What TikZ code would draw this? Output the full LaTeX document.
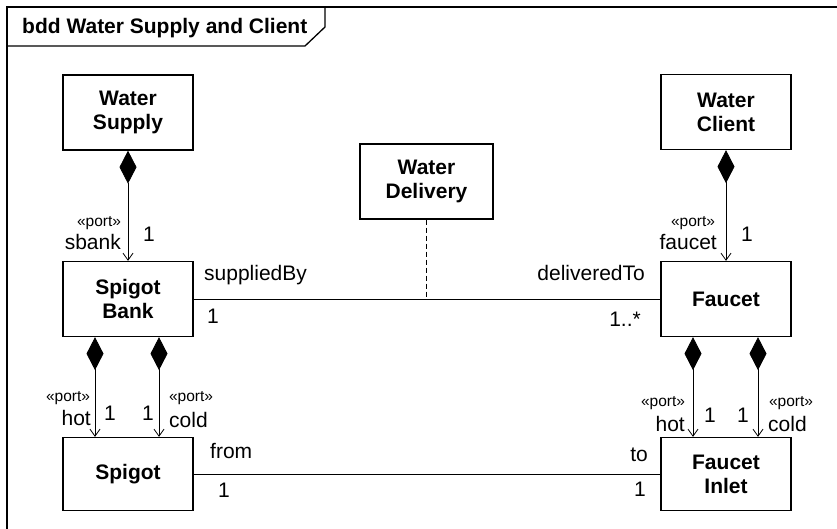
\documentclass[tikz,border=0pt]{standalone}
\usepackage{fontspec}
\setmainfont{Liberation Sans}
\usetikzlibrary{arrows.meta}
\definecolor{ink}{HTML}{000000}

\begin{document}
\begin{tikzpicture}[x=1pt,y=-1pt,font=\fontsize{21}{24}\selectfont,text=ink,
    block/.style={draw=ink,line width=1.3pt,fill=white,minimum width=130pt,
      minimum height=75pt,align=center,inner sep=2pt,font=\bfseries\fontsize{21}{24}\selectfont},
    comp/.style={draw=ink,line width=0.8pt,
      {Diamond[width=17pt,length=33pt]}-{Straight Barb[length=7pt,width=10pt,line width=0.8pt]}},
    assoc/.style={draw=ink,line width=0.8pt},
    stereo/.style={anchor=base,font=\fontsize{15.5}{17}\selectfont,inner sep=0pt},
    lbl/.style={inner sep=0pt}]
  \useasboundingbox (0,0) rectangle (837,529);
  \path[fill=white] (0,0) rectangle (837,529);

  % frame and name tab
  \draw[ink,line width=1.3pt] (837,7) -- (7,7) -- (7,529);
  \draw[ink,line width=1.3pt] (325,7) -- (325,27) -- (305,46) -- (7,46);
  \node[lbl,anchor=base west,font=\bfseries\fontsize{21}{24}\selectfont] (title) at (22,34)
    {bdd Water Supply and Client};

  % blocks
  \node[block] (supply) at (128,112.5) {Water\\Supply};
  \node[block] (client) at (726,112) {Water\\Client};
  \node[block,minimum width=133pt] (delivery) at (426.5,181.5) {Water\\Delivery};
  \node[block] (bank) at (128,299) {Spigot\\Bank};
  \node[block] (faucet) at (726,299) {Faucet};
  \node[block,minimum height=73pt] (spigot) at (128,474) {Spigot};
  \node[block,minimum height=73pt] (inlet) at (726,474) {Faucet\\Inlet};

  % compositions
  \draw[comp] (supply.south) -- (bank.north);
  \draw[comp] (client.south) -- (faucet.north);
  \draw[comp] ([xshift=-33pt]bank.south) -- ([xshift=-33pt]spigot.north);
  \draw[comp] ([xshift=31pt]bank.south) -- ([xshift=31pt]spigot.north);
  \draw[comp] ([xshift=-33pt]faucet.south) -- ([xshift=-33pt]inlet.north);
  \draw[comp] ([xshift=32pt]faucet.south) -- ([xshift=32pt]inlet.north);

  % associations
  \draw[assoc] (bank.east) -- (faucet.west);
  \draw[assoc] (spigot.east) -- (inlet.west);
  \draw[assoc,line width=1.1pt,dash pattern=on 5pt off 3pt] (delivery.south) -- (delivery.south |- bank.east);

  % role names and multiplicities
  \node[stereo] (sbankst) at (99,227) {«port»};
  \node[lbl,anchor=base east] (sbank) at (121,250) {sbank};
  \node[lbl,anchor=base] (sbankm) at (149,242) {1};
  \node[stereo] (faucetst) at (693,226) {«port»};
  \node[lbl,anchor=base east] (faucetr) at (717,250) {faucet};
  \node[lbl,anchor=base] (faucetm) at (747,241) {1};

  \node[lbl,anchor=base west] (suppliedby) at (204,280) {suppliedBy};
  \node[lbl,anchor=base] (suppliedm) at (213,323) {1};
  \node[lbl,anchor=base east] (deliveredto) at (645,280) {deliveredTo};
  \node[lbl,anchor=base east] (deliveredm) at (641,326) {1..*};

  \node[stereo] (hotst) at (68,401) {«port»};
  \node[lbl,anchor=base east] (hot) at (91,425) {hot};
  \node[lbl,anchor=base] (hotm) at (110,420) {1};
  \node[lbl,anchor=base] (coldm) at (148,420) {1};
  \node[stereo] (coldst) at (191,401) {«port»};
  \node[lbl,anchor=base west] (cold) at (169,427) {cold};

  \node[stereo] (ihotst) at (663,406) {«port»};
  \node[lbl,anchor=base east] (ihot) at (685,431) {hot};
  \node[lbl,anchor=base] (ihotm) at (710,422) {1};
  \node[lbl,anchor=base] (icoldm) at (743,422) {1};
  \node[stereo] (icoldst) at (791,406) {«port»};
  \node[lbl,anchor=base west] (icold) at (768,431) {cold};

  \node[lbl,anchor=base west] (from) at (210,458) {from};
  \node[lbl,anchor=base] (fromm) at (224,497) {1};
  \node[lbl,anchor=base] (to) at (639,461) {to};
  \node[lbl,anchor=base] (tom) at (640,496) {1};
\end{tikzpicture}
\end{document}
